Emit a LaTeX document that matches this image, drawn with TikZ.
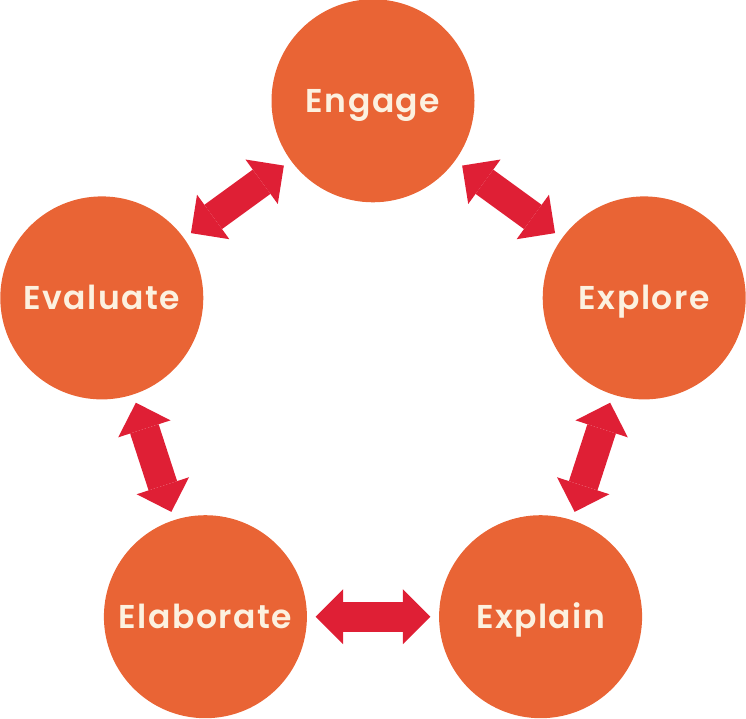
\documentclass[tikz,border=0pt]{standalone}
\usepackage{fontspec}
\setmainfont{Poppins}[BoldFont=* SemiBold, LetterSpace=4.5]
\usetikzlibrary{arrows.meta}
\definecolor{circorange}{RGB}{233,100,53}
\definecolor{arrred}{RGB}{223,31,53}
\definecolor{labcream}{RGB}{252,241,224}
\tikzset{
  stage/.style={circle, fill=circorange, minimum size=203pt, inner sep=0pt,
    text=labcream, font=\bfseries\fontsize{33}{33}\selectfont,
    text height=23pt, text depth=0pt},
  link/.style={draw=arrred, line width=30pt,
    {Triangle[length=27.5pt,width=55pt,line width=0pt]}-{Triangle[length=27.5pt,width=55pt,line width=0pt]},
    shorten <=8.5pt, shorten >=8.5pt}
}
\begin{document}
\begin{tikzpicture}[x=1pt,y=-1pt]
\useasboundingbox (0,0) rectangle (746,719);
\node[stage] (engage) at (373,100.8) {Engage};
\node[stage] (explore) at (644.2,297.9) {Explore};
\node[stage] (evaluate) at (101.8,297.9) {Evaluate};
\node[stage] (explain) at (540.6,616.7) {Explain};
\node[stage] (elaborate) at (205.4,616.7) {Elaborate};
\draw[link] (evaluate) -- (engage);
\draw[link] (engage) -- (explore);
\draw[link] (explore) -- (explain);
\draw[link] (elaborate) -- (explain);
\draw[link] (evaluate) -- (elaborate);
\end{tikzpicture}
\end{document}
